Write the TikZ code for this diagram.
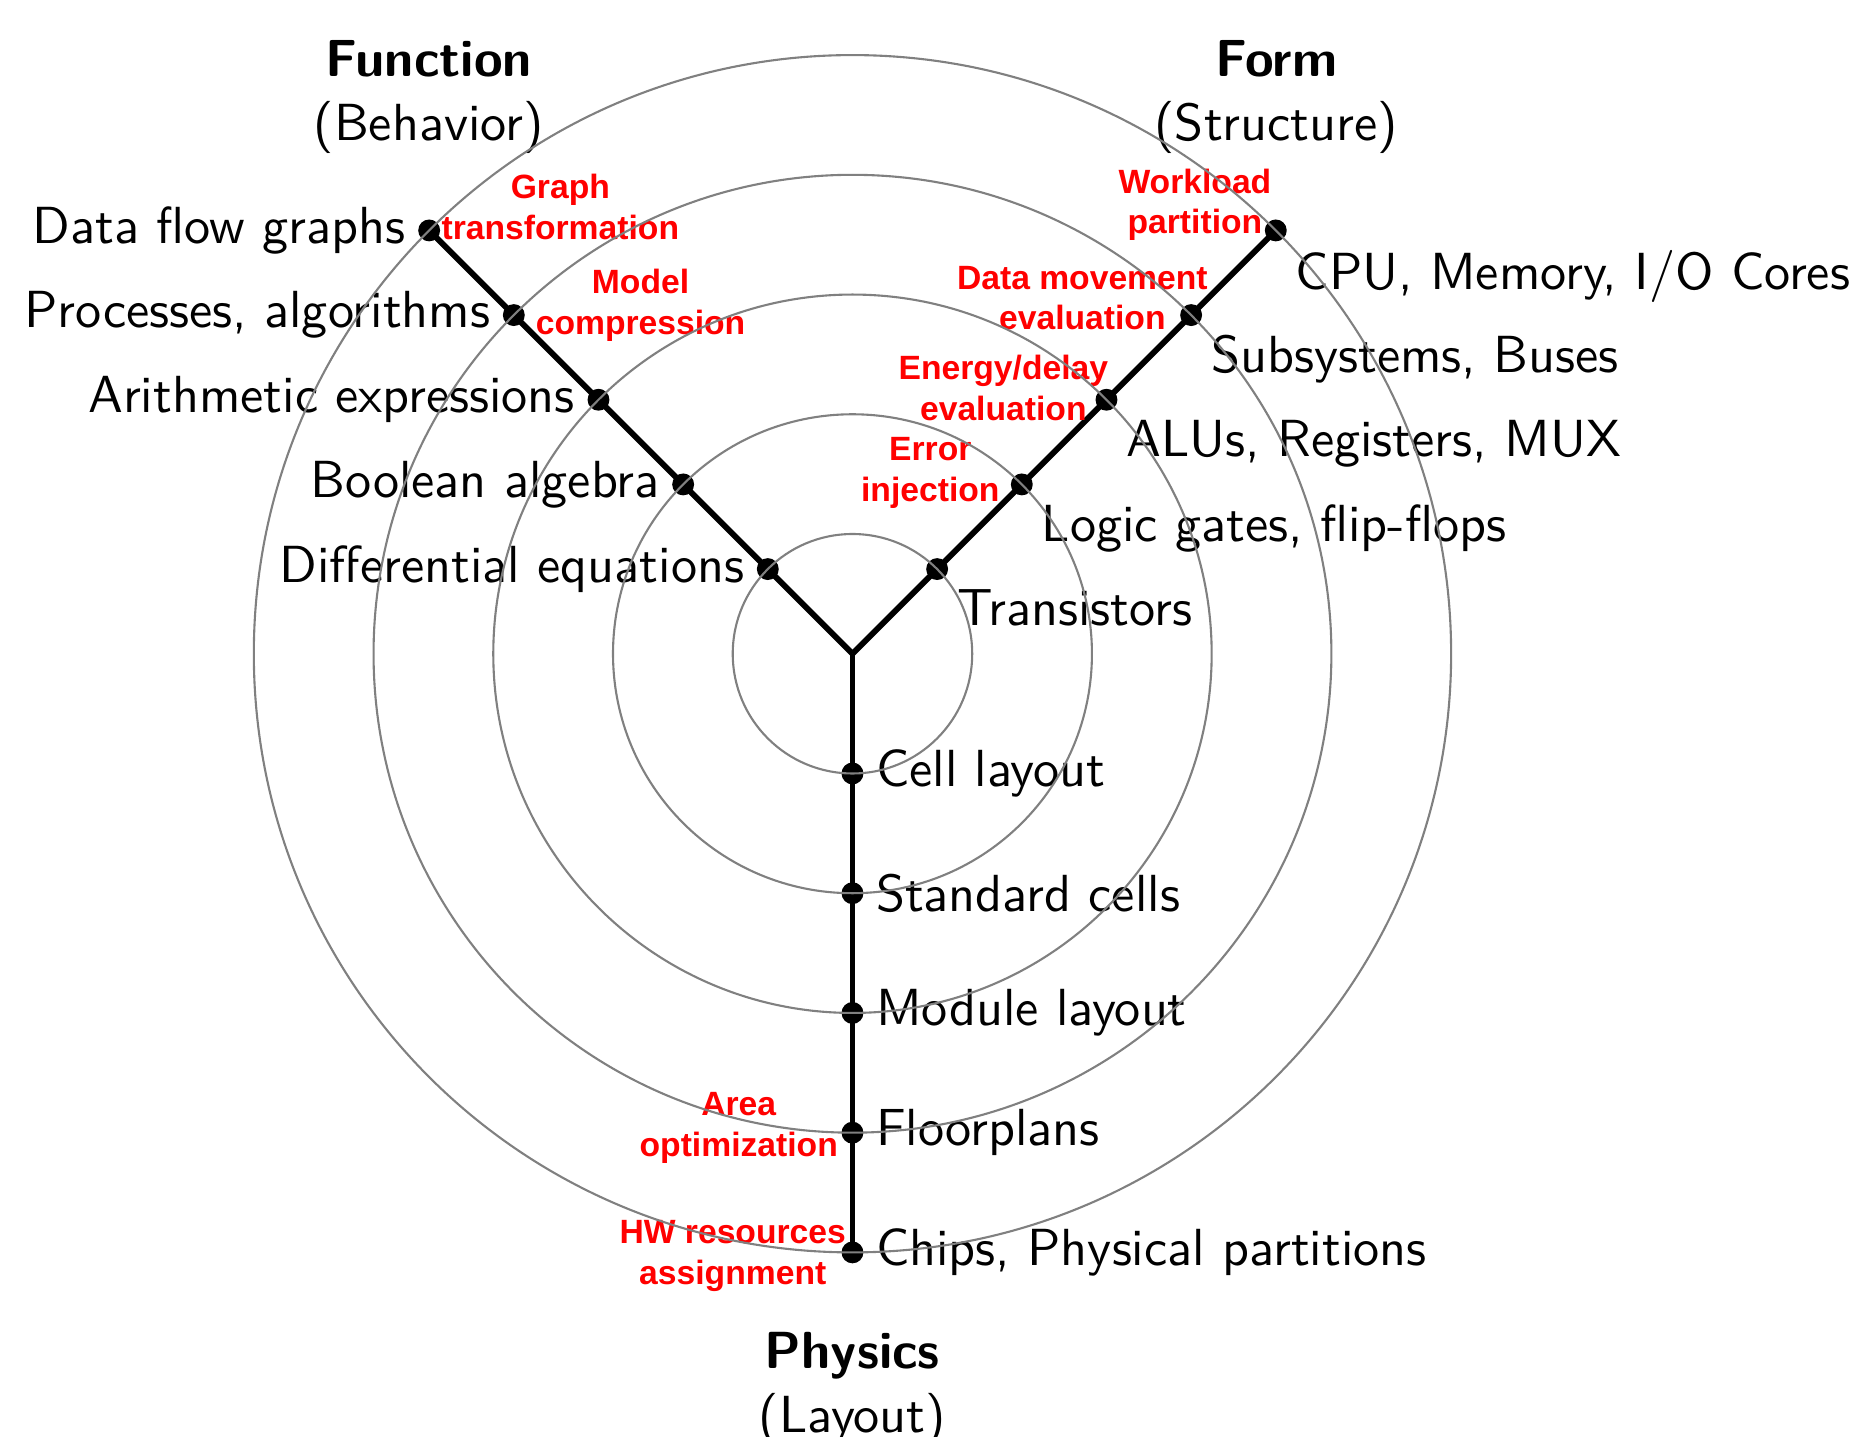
\documentclass[tikz,border=0pt]{standalone}
\usepackage{fontspec}
\setsansfont{lmsans10-regular.otf}[BoldFont=lmsans10-bold.otf]
\newfontfamily\notefont{Liberation Sans}
\usetikzlibrary{positioning}

\begin{document}
\begin{tikzpicture}[
  lbl/.style={font=\sffamily\fontsize{12.4}{15}\selectfont, inner sep=2.6pt},
  head/.style={font=\sffamily\fontsize{12.4}{15}\selectfont, align=center},
  note/.style={font=\notefont\bfseries\fontsize{8}{9.6}\selectfont, text=red, align=center, inner sep=1pt},
  axis/.style={line width=1.4pt},
  ring/.style={gray, line width=0.5pt},
  dot/.style={circle, fill=black, inner sep=0pt, minimum size=5.2pt}]
  \useasboundingbox (-7.12,-6.54) rectangle (8.44,5.46);
  \coordinate (o) at (0,0);

  % the three axes
  \draw[axis] (o) -- (135:5);
  \draw[axis] (o) -- (45:5);
  \draw[axis] (o) -- (0,-5);

  % function (behaviour)
  \node[dot] (f1) at (135:1) {};
  \node[dot] (f2) at (135:2) {};
  \node[dot] (f3) at (135:3) {};
  \node[dot] (f4) at (135:4) {};
  \node[dot] (f5) at (135:5) {};
  \node[lbl, left=0pt of f1] (tf1) {Differential equations};
  \node[lbl, left=0pt of f2] (tf2) {Boolean algebra};
  \node[lbl, left=0pt of f3] (tf3) {Arithmetic expressions};
  \node[lbl, left=0pt of f4] (tf4) {Processes, algorithms};
  \node[lbl, left=0pt of f5] (tf5) {Data flow graphs};

  % form (structure)
  \node[dot] (s1) at (45:1) {};
  \node[dot] (s2) at (45:2) {};
  \node[dot] (s3) at (45:3) {};
  \node[dot] (s4) at (45:4) {};
  \node[dot] (s5) at (45:5) {};
  \node[lbl, below right=0pt of s1] (ts1) {Transistors};
  \node[lbl, below right=0pt of s2] (ts2) {Logic gates, flip-flops};
  \node[lbl, below right=0pt of s3] (ts3) {ALUs, Registers, MUX};
  \node[lbl, below right=0pt of s4] (ts4) {Subsystems, Buses};
  \node[lbl, below right=0pt of s5] (ts5) {CPU, Memory, I/O Cores};

  % physics (layout)
  \node[dot] (p1) at (0,-1) {};
  \node[dot] (p2) at (0,-2) {};
  \node[dot] (p3) at (0,-3) {};
  \node[dot] (p4) at (0,-4) {};
  \node[dot] (p5) at (0,-5) {};
  \node[lbl, right=0pt of p1] (tp1) {Cell layout};
  \node[lbl, right=0pt of p2] (tp2) {Standard cells};
  \node[lbl, right=0pt of p3] (tp3) {Module layout};
  \node[lbl, right=0pt of p4] (tp4) {Floorplans};
  \node[lbl, right=0pt of p5] (tp5) {Chips, Physical partitions};

  % domain names
  \node[head] (func) at (-3.54,4.65) {\bfseries Function\\(Behavior)};
  \node[head] (form) at (3.54,4.65) {\bfseries Form\\(Structure)};
  \node[head] (phys) at (0,-6.14) {\bfseries Physics\\(Layout)};

  % red notes
  \node[note] (n-graph) at (-2.44,3.73) {Graph\\transformation};
  \node[note] (n-model) at (-1.77,2.91) {Model\\compression};
  \node[note] (n-work) at (2.86,3.75) {Workload\\partition};
  \node[note] (n-move) at (1.92,2.97) {Data movement\\evaluation};
  \node[note] (n-energy) at (1.26,2.22) {Energy/delay\\evaluation};
  \node[note] (n-error) at (0.65,1.51) {Error\\injection};
  \node[note] (n-area) at (-0.95,-3.96) {Area\\optimization};
  \node[note] (n-hw) at (-1.00,-5.03) {HW resources\\assignment};

  % rings go on top
  \draw[ring] (o) circle (1);
  \draw[ring] (o) circle (2);
  \draw[ring] (o) circle (3);
  \draw[ring] (o) circle (4);
  \draw[ring] (o) circle (5);
\end{tikzpicture}
\end{document}
